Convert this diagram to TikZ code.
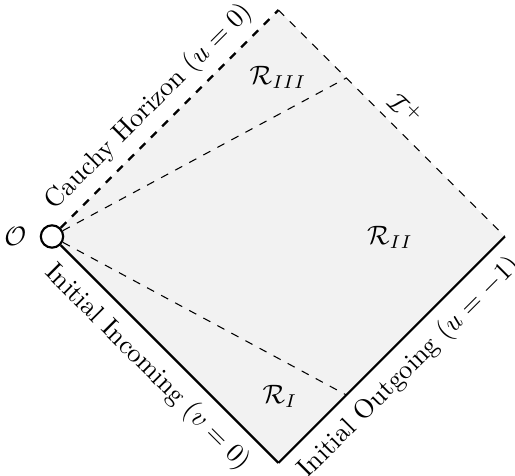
\documentclass[tikz,border=0pt]{standalone}
\usetikzlibrary{calc}
\begin{document}
\begin{tikzpicture}[x=0.3759pt,y=-0.3759pt,
  edgelbl/.style={font=\normalsize},
  region/.style={font=\normalsize}]
\useasboundingbox (0,0) rectangle (515,476);
\coordinate (T) at (278.5,10);
\coordinate (R) at (505,236.5);
\coordinate (B) at (278.5,463);
\coordinate (Oc) at (52,236.5);
\fill[gray!10] (Oc) -- (T) -- (R) -- (B) -- cycle;
\node[circle,draw,thick,fill=white,minimum size=8.4pt,inner sep=0pt] (O) at (Oc) {};
\coordinate (P1) at ($(T)!0.3!(R)$);
\coordinate (P2) at ($(B)!0.3!(R)$);
\draw[dashed] (O) -- (P1);
\draw[dashed] (O) -- (P2);
\draw[thick,dashed] (O) -- (T);
\draw[dashed] (T) -- (R);
\draw[thick] (R) -- (B);
\draw[thick] (B) -- (O);
\node[left=1.5pt] (Olbl) at (O.west) {$\mathcal{O}$};
\path (Oc) -- (T) node[edgelbl,midway,above,sloped] (cauchy) {Cauchy Horizon ($u=0$)};
\path (Oc) -- (B) node[edgelbl,midway,below,sloped,yshift=-1pt] (inc) {Initial Incoming ($v=0$)};
\path (B) -- (R) node[edgelbl,midway,below,sloped,yshift=-1pt] (out) {Initial Outgoing ($u=-1$)};
\path (T) -- (R) node[edgelbl,midway,above,sloped] (scri) {$\mathcal{I}^+$};
\node[region] (r3) at (278,77) {$\mathcal{R}_{III}$};
\node[region] (r2) at (390,237) {$\mathcal{R}_{II}$};
\node[region] (r1) at (280,396) {$\mathcal{R}_{I}$};
\end{tikzpicture}
\end{document}
